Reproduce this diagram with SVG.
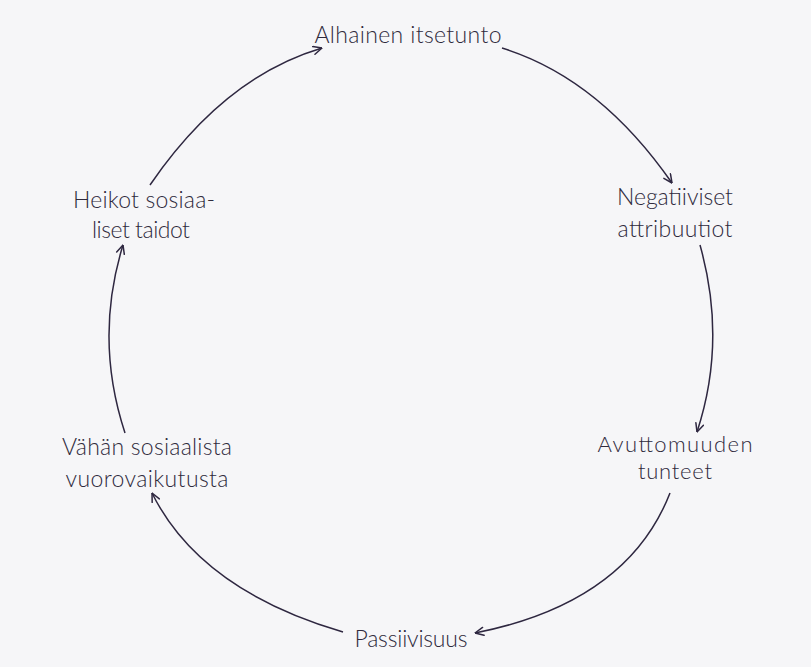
<svg xmlns="http://www.w3.org/2000/svg" width="811" height="667" viewBox="0 0 811 667">
  <style>
    .lbl { font-family: "Lato", "Open Sans", "Liberation Sans", sans-serif; font-size: 23px; font-weight: 300; fill: #2f2a3c; text-anchor: middle; }
    .sm { font-size: 22px; }
    .arc { fill: none; stroke: #2e2740; stroke-width: 1.5; marker-end: url(#head); }
  </style>
  <defs>
    <marker id="head" viewBox="0 0 10 10" refX="9.5" refY="5" markerWidth="10" markerHeight="10" markerUnits="userSpaceOnUse" orient="auto">
      <path d="M1,1 L9.5,5 L1,9" fill="none" stroke="#2e2740" stroke-width="1.5" stroke-linecap="round" stroke-linejoin="round"/>
    </marker>
  </defs>
  <rect width="811" height="667" fill="#f6f6f8"/>

  <g id="connectors">
    <path class="arc" d="M150,185 Q224,77 322,48"/>
    <path class="arc" d="M502,48 Q599,78 672,183"/>
    <path class="arc" d="M700,245 Q727,341 697,432"/>
    <path class="arc" d="M670,493 Q627,603 475,633"/>
    <path class="arc" d="M343,632 Q200,590 152,493"/>
    <path class="arc" d="M125,433 Q94,339 123,245"/>
  </g>

  <g id="n-alhainen">
    <text class="lbl" x="408" y="43" textLength="187">Alhainen itsetunto</text>
  </g>
  <g id="n-negatiiviset">
    <text class="lbl" x="675" y="205" textLength="116">Negatiiviset</text>
    <text class="lbl" x="675" y="237" textLength="115">attribuutiot</text>
  </g>
  <g id="n-avuttomuuden">
    <text class="lbl sm" x="675" y="452" textLength="155">Avuttomuuden</text>
    <text class="lbl sm" x="675" y="479" textLength="74">tunteet</text>
  </g>
  <g id="n-passiivisuus">
    <text class="lbl" x="411" y="647" textLength="113">Passiivisuus</text>
  </g>
  <g id="n-vahan">
    <text class="lbl" x="147" y="455" textLength="170">Vähän sosiaalista</text>
    <text class="lbl" x="147" y="487" textLength="163">vuorovaikutusta</text>
  </g>
  <g id="n-heikot">
    <text class="lbl" x="144" y="208" textLength="142">Heikot sosiaa-</text>
    <text class="lbl" x="141" y="238" textLength="98">liset taidot</text>
  </g>
</svg>
